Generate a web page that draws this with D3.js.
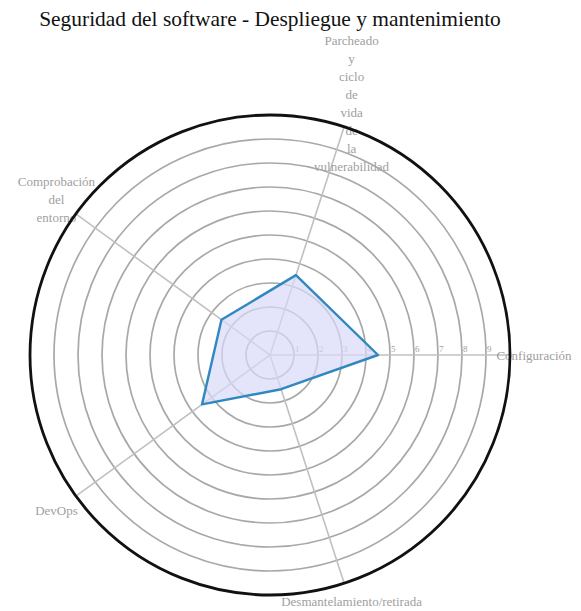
<!DOCTYPE html>
<html>
<head>
<meta charset="utf-8">
<script src="https://cdn.jsdelivr.net/npm/d3@7"></script>
<style>
  html, body { margin: 0; padding: 0; background: #ffffff; }
  svg { display: block; }
  svg text { font-family: "Liberation Serif", Tinos, "Times New Roman", Times, "DejaVu Serif", "Noto Serif", serif; }
</style>
</head>
<body>
<svg id="chart" width="581" height="611"></svg>
<script>
const chartTitle = "Seguridad del software - Despliegue y mantenimiento";
const categories = [
  "Configuración",
  "Parcheado y ciclo de vida de la vulnerabilidad",
  "Comprobación del entorno",
  "DevOps",
  "Desmantelamiento/retirada"
];
const values = [4.5, 3.5, 2.5, 3.5, 1.5];
const radialTicks = [1, 2, 3, 4, 5, 6, 7, 8, 9];
const radialDomain = [0, 10];

const svg = d3.select("#chart");
const cx = 270, cy = 355, R = 240;

const r = d3.scaleLinear().domain(radialDomain).range([0, R]);
const step = 2 * Math.PI / categories.length;
const ang = d3.scaleOrdinal()
  .domain(categories)
  .range(categories.map((c, i) => Math.PI / 2 - i * step));

const g = svg.append("g").attr("transform", `translate(${cx},${cy})`);

g.append("g").selectAll("circle")
  .data(radialTicks)
  .join("circle")
  .attr("r", d => r(d))
  .attr("fill", "none")
  .attr("stroke", "#a8a8a8")
  .attr("stroke-width", 1.7);

g.append("g").selectAll("line")
  .data(categories)
  .join("line")
  .attr("x1", 0).attr("y1", 0)
  .attr("x2", d => r(radialDomain[1]) * Math.sin(ang(d)))
  .attr("y2", d => -r(radialDomain[1]) * Math.cos(ang(d)))
  .attr("stroke", "#c0c0c0")
  .attr("stroke-width", 1.6);

g.append("g").selectAll("text")
  .data(radialTicks)
  .join("text")
  .attr("x", d => r(d) + 1)
  .attr("y", -3)
  .attr("font-size", 9)
  .attr("fill", "#a0a0a0")
  .text(d => d);

const radial = d3.lineRadial()
  .angle((d, i) => ang(categories[i]))
  .radius(d => r(d))
  .curve(d3.curveLinearClosed);

g.append("path")
  .datum(values)
  .attr("d", radial)
  .attr("fill", "#d8d8fa")
  .attr("fill-opacity", 0.7)
  .attr("stroke", "#2f88c0")
  .attr("stroke-width", 2.4)
  .attr("stroke-linejoin", "round");

const labelR = 264, lineH = 18;
const lab = g.append("g").selectAll("text")
  .data(categories)
  .join("text")
  .attr("font-size", 13)
  .attr("fill", "#a0a0a0")
  .attr("text-anchor", "middle");
lab.each(function(d) {
  const words = d.split(" ");
  const a = ang(d);
  const x = labelR * Math.sin(a);
  let y = -labelR * Math.cos(a);
  if (y > 246) y = 246;
  const n = words.length;
  d3.select(this).selectAll("tspan")
    .data(words)
    .join("tspan")
    .attr("x", x)
    .attr("y", (w, i) => y + (i - (n - 1) / 2) * lineH)
    .attr("dy", "0.35em")
    .text(w => w);
});

g.append("circle")
  .attr("r", r(radialDomain[1]))
  .attr("fill", "none")
  .attr("stroke", "#111")
  .attr("stroke-width", 2.8);

const t = svg.append("text")
  .attr("x", cx)
  .attr("y", 26)
  .attr("text-anchor", "middle")
  .attr("font-size", 20)
  .attr("fill", "#111")
  .text(chartTitle);
const w = t.node().getComputedTextLength();
t.attr("font-size", 20 * 462 / w);
</script>
</body>
</html>
